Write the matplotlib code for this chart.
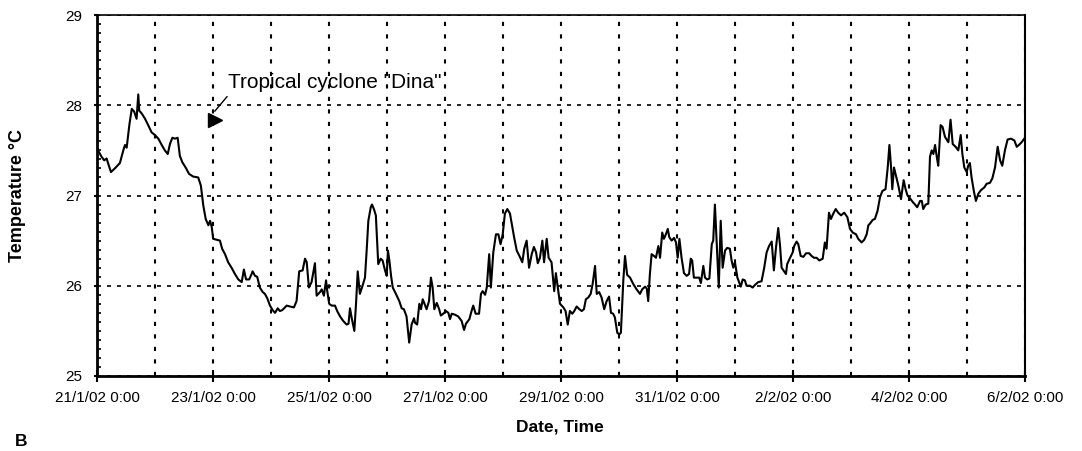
import matplotlib.pyplot as plt
from matplotlib.ticker import MultipleLocator

plt.rcParams['font.family'] = ['Liberation Sans', 'DejaVu Sans']

# hours since 21/1/02 0:00 and water temperature (deg C)
hours = [0.0, 1.9, 3.0, 4.0, 4.7, 5.8, 7.4, 9.5, 10.9, 11.6,
         12.3, 13.4, 14.4, 15.4, 16.4, 17.1, 17.5, 18.5, 19.9, 21.2,
         22.6, 24.0, 25.4, 26.8, 28.1, 29.3, 30.2, 31.2, 32.3, 33.4,
         34.3, 35.3, 36.7, 38.1, 39.8, 41.9, 43.0, 44.0, 45.0, 46.1,
         46.8, 47.5, 48.1, 49.5, 50.9, 51.8, 53.0, 54.3, 55.7, 57.1,
         58.5, 59.9, 60.8, 61.7, 63.0, 64.0,
         64.4, 65.4, 66.3, 67.4, 68.6, 69.5, 70.5, 71.6, 72.7, 73.7,
         74.8, 75.7, 76.7, 78.5, 79.9, 81.5, 82.6, 83.7, 85.1, 86.1,
         86.8, 87.7, 88.8, 90.2, 90.9, 92.3, 93.0, 93.9, 94.8, 95.3,
         96.1, 97.1, 98.5, 99.4, 100.6, 101.9, 103.3, 104.1, 104.7, 105.5,
         106.5, 107.2, 107.9, 108.8, 109.9, 110.9, 111.6, 112.3, 113.3, 113.8,
         114.6, 115.4, 116.4, 117.4, 118.2, 119.2, 119.9, 120.4, 121.0, 121.7,
         122.4, 123.7, 125.1, 126.1, 127.0, 128.1, 129.2, 130.2, 131.2,
         131.6, 132.5, 133.4, 134.1, 134.8, 135.4, 136.4, 137.4, 138.2, 138.9,
         139.6, 140.6, 141.6, 142.3, 143.3, 144.4, 145.4, 146.1, 146.8, 148.1,
         149.5, 150.9, 151.9, 152.7, 154.1, 155.0, 155.7, 156.7, 158.1, 158.9,
         159.6, 160.6, 161.3, 162.3, 163.0, 164.0, 165.1, 166.1, 167.0, 167.9,
         168.8, 169.8, 170.9, 171.6, 172.6, 173.7, 175.0, 176.0, 176.8, 177.8,
         178.8, 179.9, 180.8, 181.7, 182.4, 183.3, 184.3, 185.0, 186.1, 186.9,
         188.1, 189.2, 189.9, 190.6, 191.6, 193.0, 193.9, 194.8, 195.7, 196.7,
         197.5,
         198.5, 199.6, 200.6, 201.5, 202.3, 203.3, 204.3, 205.1, 206.1, 206.8,
         207.8, 208.8, 209.9, 210.9, 211.9, 212.7, 213.6, 214.3, 215.3, 216.1,
         216.8, 217.8, 218.5, 219.4, 220.6, 221.9, 223.3, 224.7, 225.6, 226.8,
         227.5, 228.1, 228.8, 229.5, 230.5, 231.3, 232.3, 233.0, 233.9, 234.6,
         235.4, 236.2, 236.8, 237.8, 238.8, 239.6, 240.3, 241.0, 241.9, 242.9,
         244.0, 245.0, 245.7, 246.3, 247.0, 248.4, 249.2, 249.9, 250.9, 251.6,
         252.5, 253.4, 254.4, 255.0, 255.7, 256.4, 257.3, 258.1, 258.9, 259.9,
         260.8,
         261.9, 262.6, 263.3, 264.0, 265.0, 266.4, 267.2, 268.1, 268.8, 270.2,
         271.3, 272.3, 273.6, 275.0, 276.1, 277.1, 278.1, 279.2, 280.1, 281.0,
         281.9, 282.6, 283.3, 284.3, 285.1, 285.6, 286.8, 287.9, 288.5, 289.5,
         290.2, 291.2, 292.3, 293.4, 294.7, 295.7, 296.7, 297.8, 298.9, 300.3,
         301.2, 301.9, 302.9, 303.7, 304.7, 305.7, 306.7, 307.9, 309.2, 310.5,
         311.6, 312.7, 314.1, 315.0, 316.4, 317.5, 318.5, 319.2, 319.9, 321.0,
         321.9, 323.0, 324.0, 325.0, 326.3, 327.2, 327.9, 328.6, 329.1, 329.8,
         330.6, 331.6, 332.7, 333.8, 334.6, 335.4, 336.4, 337.5, 338.5, 339.4,
         340.6, 341.3, 341.9, 342.9, 344.0, 344.7, 345.4, 346.1, 346.8, 347.5,
         348.1, 349.1, 349.9, 350.9, 352.3, 353.2, 354.1, 355.3, 356.4, 357.4,
         358.1, 358.9, 359.9, 360.5, 361.2, 361.9, 362.9, 363.7, 364.7, 365.8,
         367.2, 368.1, 369.5, 370.5, 371.6, 372.7, 373.7, 374.6, 375.7, 376.8,
         378.2, 379.6, 380.6, 381.5, 382.6, 384.0]

temps = [27.52, 27.43, 27.39, 27.41, 27.35, 27.26, 27.30, 27.36, 27.50, 27.56,
         27.53, 27.78, 27.96, 27.93, 27.85, 28.12, 27.94, 27.91, 27.85, 27.78,
         27.70, 27.67, 27.63, 27.56, 27.50, 27.46, 27.57, 27.64, 27.63, 27.64,
         27.44, 27.37, 27.31, 27.24, 27.21, 27.20, 27.11, 26.89, 26.74, 26.67,
         26.72, 26.65, 26.52, 26.51, 26.50, 26.41, 26.35, 26.26, 26.20, 26.13,
         26.07, 26.04, 26.18, 26.07, 26.07, 26.13,
         26.16, 26.11, 26.10, 25.98, 25.93, 25.91, 25.86, 25.78, 25.73, 25.70,
         25.75, 25.72, 25.73, 25.78, 25.77, 25.76, 25.83, 26.16, 26.17, 26.30,
         26.26, 25.98, 26.04, 26.25, 25.89, 25.93, 25.96, 25.89, 26.06, 25.94,
         25.80, 25.78, 25.78, 25.72, 25.66, 25.61, 25.57, 25.58, 25.75, 25.63,
         25.50, 25.80, 26.16, 25.91, 26.00, 26.09, 26.39, 26.72, 26.87, 26.90,
         26.85, 26.78, 26.24, 26.30, 26.28, 26.17, 26.11, 26.39, 26.28, 26.11,
         25.98, 25.91, 25.83, 25.75, 25.74, 25.66, 25.37, 25.57, 25.64,
         25.59, 25.57, 25.80, 25.74, 25.85, 25.81, 25.74, 25.83, 26.09, 25.98,
         25.74, 25.81, 25.74, 25.67, 25.69, 25.72, 25.70, 25.63, 25.69, 25.68,
         25.66, 25.61, 25.51, 25.58, 25.63, 25.72, 25.78, 25.69, 25.69, 25.91,
         25.94, 25.90, 25.98, 26.35, 25.98, 26.37, 26.57, 26.57, 26.46, 26.57,
         26.80, 26.85, 26.80, 26.69, 26.54, 26.39, 26.32, 26.26, 26.41, 26.50,
         26.20, 26.35, 26.43, 26.37, 26.25, 26.31, 26.50, 26.26, 26.52, 26.31,
         26.26, 25.94, 26.14, 26.00, 25.80, 25.76, 25.72, 25.57, 25.72, 25.69,
         25.72,
         25.77, 25.74, 25.72, 25.74, 25.85, 25.87, 25.91, 26.02, 26.22, 25.91,
         25.93, 25.87, 25.74, 25.83, 25.88, 25.70, 25.69, 25.65, 25.48, 25.46,
         25.48, 26.06, 26.33, 26.12, 26.09, 26.02, 25.96, 25.91, 25.96, 25.99,
         25.97, 25.83, 26.13, 26.35, 26.33, 26.31, 26.44, 26.31, 26.59, 26.52,
         26.57, 26.63, 26.54, 26.50, 26.53, 26.48, 26.31, 26.52, 26.31, 26.14,
         26.11, 26.13, 26.30, 26.28, 26.09, 26.09, 26.09, 26.03, 26.22, 26.09,
         26.07, 26.08, 26.46, 26.50, 26.90, 26.50, 25.98, 26.72, 26.20, 26.39,
         26.42,
         26.41, 26.28, 26.20, 26.26, 26.09, 25.99, 26.07, 26.06, 26.00, 26.00,
         25.98, 26.01, 26.04, 26.05, 26.20, 26.37, 26.44, 26.49, 26.17, 26.43,
         26.64, 26.46, 26.20, 26.16, 26.13, 26.24, 26.31, 26.37, 26.44, 26.49,
         26.46, 26.33, 26.32, 26.36, 26.36, 26.33, 26.31, 26.31, 26.28, 26.30,
         26.48, 26.41, 26.81, 26.74, 26.80, 26.85, 26.81, 26.78, 26.81, 26.76,
         26.63, 26.59, 26.57, 26.52, 26.48, 26.51, 26.57, 26.67, 26.69, 26.73,
         26.74, 26.83, 26.98, 27.05, 27.07, 27.31, 27.56, 27.31, 27.07, 27.31,
         27.22, 27.11, 26.96, 27.17, 27.07, 27.00, 26.97, 26.93, 26.90, 26.87,
         26.94, 26.94, 26.85, 26.90, 26.91, 27.43, 27.50, 27.46, 27.56, 27.43,
         27.33, 27.78, 27.76, 27.65, 27.59, 27.84, 27.57, 27.54, 27.50, 27.67,
         27.46, 27.31, 27.26, 27.33, 27.36, 27.20, 27.04, 26.94, 27.02, 27.06,
         27.09, 27.13, 27.14, 27.19, 27.31, 27.54, 27.39, 27.33, 27.50, 27.62,
         27.63, 27.61, 27.54, 27.56, 27.59, 27.64]

date_labels = ['21/1/02 0:00', '23/1/02 0:00', '25/1/02 0:00', '27/1/02 0:00',
               '29/1/02 0:00', '31/1/02 0:00', '2/2/02 0:00', '4/2/02 0:00',
               '6/2/02 0:00']
label_hours = [48 * i for i in range(len(date_labels))]

# cyclone marker position (hours, deg C)
cyclone_hour, cyclone_temp = 48.8, 27.84

fig = plt.figure(figsize=(10.82, 4.51), dpi=100)
ax = fig.add_axes([0.0896, 0.1663, 0.8577, 0.8004])

ax.plot(hours, temps, color='black', lw=1.5, zorder=3)

ax.set_xlim(0, 384)
ax.set_ylim(25, 29)
ax.set_xticks(label_hours)
ax.set_xticklabels(date_labels, fontsize=11)
ax.xaxis.set_minor_locator(MultipleLocator(24))
ax.set_yticks([25, 26, 27, 28, 29])
ax.yaxis.set_minor_locator(MultipleLocator(0.1))
ax.tick_params(axis='y', which='major', direction='out', length=2.5, width=1.5,
               labelsize=11, pad=8)
ax.tick_params(axis='y', which='minor', direction='in', length=3, width=1.2)
ax.tick_params(axis='x', which='major', direction='inout', length=8, width=1.5,
               pad=7)
ax.tick_params(axis='x', which='minor', length=0)

ax.grid(axis='y', which='major', color='black', lw=1.2, linestyle=(0, (2.4, 3.6)))
ax.grid(axis='x', which='both', color='black', lw=1.5, linestyle=(0, (2, 4)))

ax.spines['left'].set_linewidth(2)
ax.spines['bottom'].set_linewidth(2)
ax.spines['top'].set_linewidth(1.2)
ax.spines['right'].set_linewidth(1.5)

ax.annotate('', xy=(48.0, 27.91), xytext=(54.6, 28.12),
            arrowprops=dict(arrowstyle='-', color='black', lw=1))
ax.plot(cyclone_hour, cyclone_temp, marker='>', ms=10, color='black')
ax.text(54.4, 28.19, 'Tropical cyclone "Dina"', fontsize=15, va='baseline', ha='left')

fig.text(18 / 1082, 0.566, 'Temperature °C', rotation=90, ha='center', va='center',
         fontsize=13, weight='bold')
fig.text(560 / 1082, 1 - 427 / 451, 'Date, Time', ha='center', va='center',
         fontsize=12.5, weight='bold')
fig.text(15 / 1082, 1 - 442 / 451, 'B', ha='left', va='center', fontsize=12.5,
         weight='bold')

fig.savefig('out.png', dpi=100)
